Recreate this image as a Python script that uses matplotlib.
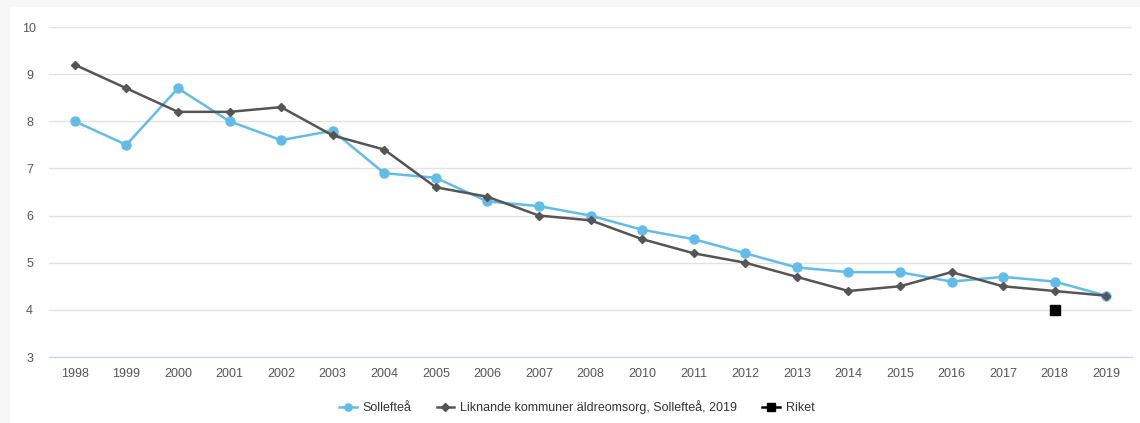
import numpy as np
import matplotlib.pyplot as plt
import matplotlib.patches as mpatches

plt.rcParams['font.family'] = ['Liberation Sans', 'DejaVu Sans']

# ── Data ──────────────────────────────────────────────────────────────────────
years = ['1998', '1999', '2000', '2001', '2002', '2003', '2004', '2005', '2006',
         '2007', '2008', '2010', '2011', '2012', '2013', '2014', '2015', '2016',
         '2017', '2018', '2019']
solleftea = [8.0, 7.5, 8.7, 8.0, 7.6, 7.8, 6.9, 6.8, 6.3, 6.2, 6.0,
             5.7, 5.5, 5.2, 4.9, 4.8, 4.8, 4.6, 4.7, 4.6, 4.3]
liknande  = [9.2, 8.7, 8.2, 8.2, 8.3, 7.7, 7.4, 6.6, 6.4, 6.0, 5.9,
             5.5, 5.2, 5.0, 4.7, 4.4, 4.5, 4.8, 4.5, 4.4, 4.3]
riket     = [np.nan] * 19 + [4.0, np.nan]

# ── Plot ──────────────────────────────────────────────────────────────────────
W, H = 1140, 423
fig = plt.figure(figsize=(W / 100, H / 100), dpi=100)
fig.patch.set_facecolor('#f7f7f7')
fig.patches.append(mpatches.Rectangle((10 / W, 0), 1, 1 - 7 / H,
                                      transform=fig.transFigure,
                                      facecolor='white', edgecolor='none',
                                      zorder=-10))

ax = fig.add_axes([49 / W, (H - 357) / H, (1132 - 49) / W, (357 - 27) / H])
ax.set_facecolor('none')

x = np.arange(len(years))
ax.plot(x, solleftea, color='#63bce8', lw=1.8, marker='o', ms=6.5,
        zorder=3, label='Sollefteå')
ax.plot(x, liknande, color='#555555', lw=1.8, marker='D', ms=4.5,
        zorder=4, label='Liknande kommuner äldreomsorg, Sollefteå, 2019')
ax.plot(x, riket, color='black', lw=1.8, marker='s', ms=6.5,
        linestyle='-', zorder=5, label='Riket')

ax.set_xlim(-0.5, len(years) - 0.5)
ax.set_ylim(3, 10)
ax.set_yticks(range(3, 11))
ax.set_xticks(x)
ax.set_xticklabels(years)
ax.tick_params(axis='both', length=0, labelsize=9, colors='#555555')
ax.tick_params(axis='x', pad=8)
ax.tick_params(axis='y', pad=14)
for lbl in ax.get_yticklabels():
    lbl.set_horizontalalignment('center')
ax.grid(axis='y', color='#e3e3e3', lw=1)
ax.set_axisbelow(True)
for side in ['top', 'right', 'left']:
    ax.spines[side].set_visible(False)
ax.spines['bottom'].set_color('#ccd6eb')
ax.spines['bottom'].set_linewidth(1)

leg = fig.legend(loc='center', bbox_to_anchor=(577 / W, (H - 407) / H),
                 ncol=3, frameon=False, fontsize=9, handlelength=1.4,
                 columnspacing=2.0, handletextpad=0.5, markerscale=0.8)
for t in leg.get_texts():
    t.set_color('#333333')

plt.savefig('out.png', dpi=100)
